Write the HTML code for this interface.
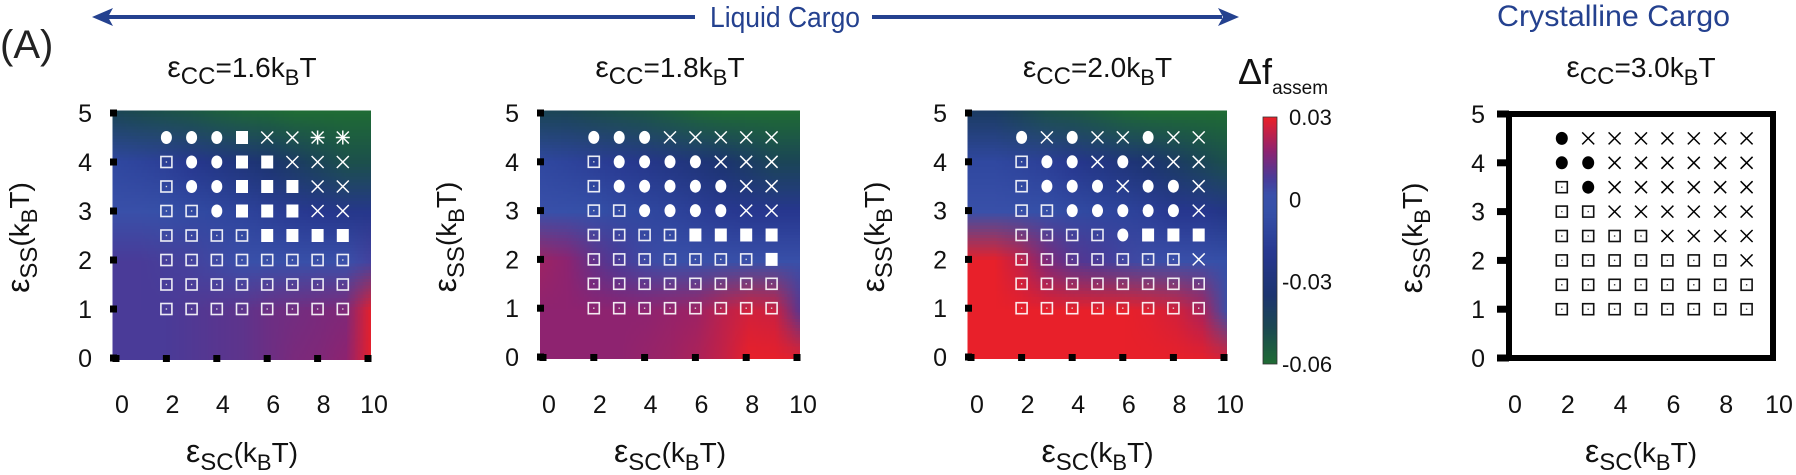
<!DOCTYPE html>
<html><head><meta charset="utf-8">
<style>
html,body{margin:0;padding:0;background:#fff;}
#root{position:relative;width:1796px;height:475px;overflow:hidden;font-family:"Liberation Sans",sans-serif;}
canvas{position:absolute;image-rendering:auto;}
svg{position:absolute;left:0;top:0;}
</style></head>
<body>
<div id="root">
<canvas id="hm0"></canvas>
<canvas id="hm1"></canvas>
<canvas id="hm2"></canvas>
<canvas id="cbar"></canvas>
<svg id="svg" width="1796" height="475" xmlns="http://www.w3.org/2000/svg"></svg>
</div>
<script>
// ---- data ----
const xTicks = [0,2,4,6,8,10];
const yTicks = [0,1,2,3,4,5];
const xCols = [2,3,4,5,6,7,8,9];
const yRows = [4.5,4,3.5,3,2.5,2,1.5,1];
const titles = ["1.6","1.8","2.0","3.0"];
const cbarTicks = [0.03,0,-0.03,-0.06];
const cbarLabels = ["0.03","0","-0.03","-0.06"];
// heat values at nodes x=0..10, rows y=5,4,3,2,1,0
const heat0 = [
 [-0.045,-0.048,-0.05,-0.052,-0.055,-0.057,-0.058,-0.06,-0.06,-0.06,-0.06],
 [-0.01,-0.012,-0.015,-0.02,-0.025,-0.03,-0.035,-0.04,-0.045,-0.05,-0.05],
 [0,0,-0.004,-0.008,-0.01,-0.012,-0.015,-0.018,-0.02,-0.022,-0.022],
 [0.008,0.008,0.007,0.006,0.004,0.002,0,0,0,0.002,0.006],
 [0.008,0.008,0.008,0.009,0.01,0.011,0.013,0.014,0.015,0.016,0.03],
 [0.008,0.008,0.008,0.009,0.01,0.011,0.013,0.015,0.016,0.018,0.03]];
const heat1 = [
 [-0.045,-0.045,-0.048,-0.05,-0.052,-0.055,-0.058,-0.06,-0.06,-0.06,-0.06],
 [-0.01,-0.012,-0.015,-0.018,-0.022,-0.026,-0.03,-0.035,-0.04,-0.045,-0.045],
 [0,-0.002,-0.005,-0.008,-0.01,-0.012,-0.015,-0.018,-0.02,-0.02,-0.02],
 [0.02,0.018,0.012,0.008,0.004,0.002,0,0,0,0,0],
 [0.018,0.018,0.018,0.018,0.018,0.019,0.02,0.024,0.027,0.026,0.01],
 [0.018,0.018,0.018,0.018,0.019,0.02,0.022,0.025,0.03,0.03,0.03]];
const heat2 = [
 [-0.04,-0.04,-0.045,-0.05,-0.052,-0.055,-0.058,-0.06,-0.06,-0.06,-0.06],
 [-0.01,-0.01,-0.012,-0.015,-0.02,-0.025,-0.03,-0.035,-0.04,-0.045,-0.05],
 [0,0,-0.002,-0.005,-0.008,-0.01,-0.012,-0.015,-0.02,-0.02,-0.025],
 [0.03,0.03,0.025,0.016,0.01,0.008,0.005,0.003,0.002,0,-0.005],
 [0.03,0.03,0.03,0.03,0.03,0.03,0.03,0.029,0.027,0.022,0],
 [0.03,0.03,0.03,0.03,0.03,0.03,0.03,0.03,0.03,0.03,0.028]];
// markers: O open square, C circle, S filled square, X cross, A asterisk
const marks0 = ["CCCSXXAA","OCCSSXXX","OCCSSSXX","OOCSSSXX","OOOOSSSS","OOOOOOOO","OOOOOOOO","OOOOOOOO"];
const marks1 = ["CCCXXXXX","OCCCCXXX","OCCCCCXX","OOCCCCXX","OOOOSSSS","OOOOOOOS","OOOOOOOO","OOOOOOOO"];
const marks2 = ["CXCXXCXX","OCCXCXXX","OCCCXCCX","OOCCCCCX","OOOOCSSS","OOOOOOOX","OOOOOOOO","OOOOOOOO"];
const marks3 = ["CXXXXXXX","CCXXXXXX","OCXXXXXX","OOXXXXXX","OOOOXXXX","OOOOOOOX","OOOOOOOO","OOOOOOOO"];

const panels = [
 {x0:116,x10:368,y5:113,y0:358,heat:heat0,marks:marks0,hm:'hm0'},
 {x0:543,x10:797,y5:113,y0:357,heat:heat1,marks:marks1,hm:'hm1'},
 {x0:971,x10:1224,y5:113,y0:357,heat:heat2,marks:marks2,hm:'hm2'},
 {x0:1509,x10:1773,y5:114,y0:358,heat:null,marks:marks3,hm:null}];

const stops = [[-0.06,[31,107,53]],[-0.048,[27,74,80]],[-0.035,[28,52,112]],[-0.02,[39,55,143]],[-0.005,[53,80,168]],[0.002,[58,80,170]],[0.008,[74,59,152]],[0.018,[142,35,112]],[0.03,[232,32,42]]];
function cmap(v){
  if(v<=stops[0][0]) return stops[0][1];
  for(let i=1;i<stops.length;i++){
    if(v<=stops[i][0]){const a=stops[i-1],b=stops[i];const t=(v-a[0])/(b[0]-a[0]);
      return a[1].map((c,k)=>Math.round(c+(b[1][k]-c)*t));}
  }
  return stops[stops.length-1][1];
}
const NS="http://www.w3.org/2000/svg";
const svgRoot=document.getElementById('svg');
function el(tag,attrs,parent){const e=document.createElementNS(NS,tag);for(const k in attrs)e.setAttribute(k,attrs[k]);(parent||svgRoot).appendChild(e);return e;}
function txt(parts,attrs,parent){const t=el('text',attrs,parent);parts.forEach(p=>{const s=document.createElementNS(NS,'tspan');s.textContent=p[0];if(p[1])s.setAttribute('font-size',p[1]);if(p[2]!==undefined)s.setAttribute('dy',p[2]);t.appendChild(s);});return t;}

// top annotations
const topG=el('g',{});


const lbl=txt([["(A)"]],{x:0,y:58,'font-size':40,fill:'#222'},topG);


const blue='#24418f';
const l1=el('line',{x1:100,y1:17,x2:695,y2:17,stroke:blue,'stroke-width':4},topG);


const l2=el('line',{x1:872,y1:17,x2:1222,y2:17,stroke:blue,'stroke-width':4},topG);


const h1=el('polygon',{points:'92,17 113,8 108,17 113,26',fill:blue},topG);


const h2=el('polygon',{points:'1239,17 1218,8 1223,17 1218,26',fill:blue},topG);


const lq=txt([["Liquid Cargo"]],{x:710,y:27,'font-size':29,fill:blue,textLength:150,lengthAdjust:'spacingAndGlyphs'},topG);


const cr=txt([["Crystalline Cargo"]],{x:1497,y:26,'font-size':30,fill:blue,textLength:233,lengthAdjust:'spacingAndGlyphs'},topG);



panels.forEach((p,pi)=>{
  const sx=v=>p.x0+(p.x10-p.x0)*v/10;
  const sy=v=>p.y0-(p.y0-p.y5)*v/5;
  const g=el('g',{});
  
  
  const L=sx(0)-3,R=sx(10)+3,T=sy(5)-2,B=sy(0)+2;
  if(p.heat){
    const c=document.getElementById(p.hm);
    const rows=p.heat.length,cols=p.heat[0].length;
    c.width=cols;c.height=rows;
    const ctx=c.getContext('2d');const img=ctx.createImageData(cols,rows);
    p.heat.forEach((row,r)=>row.forEach((v,k)=>{const col=cmap(v);const i=(r*cols+k)*4;img.data[i]=col[0];img.data[i+1]=col[1];img.data[i+2]=col[2];img.data[i+3]=255;}));
    ctx.putImageData(img,0,0);
    const cw=(R-L)/(cols-1),ch=(B-T)/(rows-1);
    c.style.left=(L-cw/2)+'px';c.style.top=(T-ch/2)+'px';
    c.style.width=(R-L+cw)+'px';c.style.height=(B-T+ch)+'px';
    c.style.clipPath=`inset(${ch/2}px ${cw/2}px ${ch/2}px ${cw/2}px)`;
  } else {
    const fr=el('rect',{x:sx(0),y:sy(5),width:sx(10)-sx(0),height:sy(0)-sy(5),fill:'none',stroke:'#000','stroke-width':6},g);
    
    
  }
  yTicks.forEach(v=>{
    const t=el('rect',{x:(p.heat?sx(0)-6:sx(0)-12),y:sy(v)-3.5,width:p.heat?7:12,height:7,fill:'#000'},g);
    
    
    const tl=txt([[String(v)]],{x:sx(0)-24,y:sy(v)+9,'font-size':25,'text-anchor':'end',fill:'#111'},g);
    
    
  });
  xTicks.forEach(v=>{
    if(p.heat){
      const t=el('rect',{x:sx(v)-3.5,y:sy(0)-3,width:7,height:7,fill:'#000'},g);
      
      
    }
    const tl=txt([[String(v)]],{x:sx(v)+6,y:413,'font-size':25,'text-anchor':'middle',fill:'#111'},g);
    
    
  });
  const cx=(sx(0)+sx(10))/2;
  const tt=txt([["ε",30],["CC",24,7],["=",28,-7],[titles[pi]+"k",28],["B",22,8],["T",28,-8]],{x:cx,y:77,'text-anchor':'middle',fill:'#111'},g);
  
  
  const xt=txt([["ε",32],["SC",24,8],["(k",28,-8],["B",22,8],["T)",28,-8]],{x:cx,y:462,'text-anchor':'middle',fill:'#111'},g);
  
  
  const yc=(sy(0)+sy(5))/2+2, yx=sx(0)-87;
  const yt=txt([["ε",32],["SS",24,8],["(k",28,-8],["B",22,8],["T)",28,-8]],{x:yx,y:yc,'text-anchor':'middle',fill:'#111',transform:`rotate(-90 ${yx} ${yc})`},g);
  
  
  const col=p.heat?'#fff':'#000';
  p.marks.forEach((row,ri)=>{
    row.split('').forEach((m,ci)=>{
      const x=sx(xCols[ci]),y=sy(yRows[ri]);
      const mg=el('g',{},g);
      
      
      if(m==='O'){
        el('rect',{x:x-5.5,y:y-5.5,width:11,height:11,fill:'none',stroke:p.heat?'rgba(255,255,255,0.9)':'#111','stroke-width':1.6},mg);
        el('rect',{x:x-0.7,y:y-0.7,width:1.4,height:1.4,fill:p.heat?'#ddd':'#333'},mg);
      } else if(m==='C'){
        el('ellipse',{cx:x,cy:y,rx:p.heat?5.5:6,ry:6.5,fill:col},mg);
      } else if(m==='S'){
        el('rect',{x:x-6,y:y-6.5,width:12,height:13,fill:col},mg);
      } else {
        el('path',{d:`M${x-6},${y-6}L${x+6},${y+6}M${x+6},${y-6}L${x-6},${y+6}`,stroke:col,'stroke-width':1.5,fill:'none'},mg);
        if(m==='A') el('path',{d:`M${x},${y-7}L${x},${y+7}M${x-7},${y}L${x+7},${y}`,stroke:col,'stroke-width':1.5},mg);
      }
    });
  });
});

// colorbar
const cbTop=117,cbBot=364,cbL=1263,cbR=1277;
const cbv=v=>cbBot-(cbBot-cbTop)*(v-(-0.06))/0.09;
(function(){
  const c=document.getElementById('cbar');const n=90;c.width=1;c.height=n;
  const ctx=c.getContext('2d');const img=ctx.createImageData(1,n);
  for(let i=0;i<n;i++){const v=0.03-0.09*i/(n-1);const col=cmap(v);img.data[i*4]=col[0];img.data[i*4+1]=col[1];img.data[i*4+2]=col[2];img.data[i*4+3]=255;}
  ctx.putImageData(img,0,0);
  c.style.left=cbL+'px';c.style.top=cbTop+'px';c.style.width=(cbR-cbL)+'px';c.style.height=(cbBot-cbTop)+'px';
})();
const cg=el('g',{});


el('rect',{x:cbL,y:cbTop,width:cbR-cbL,height:cbBot-cbTop,fill:'none',stroke:'#333','stroke-width':0.8},cg);
cbarTicks.forEach((v,i)=>{
  const t=txt([[cbarLabels[i]]],{x:v<0?1282:1289,y:cbv(v)+8,'font-size':22,fill:'#111'},cg);
  
  
});
const ct=txt([["Δf",36],["assem",19,10]],{x:1238,y:84,fill:'#111'},cg);


</script>
</body></html>
